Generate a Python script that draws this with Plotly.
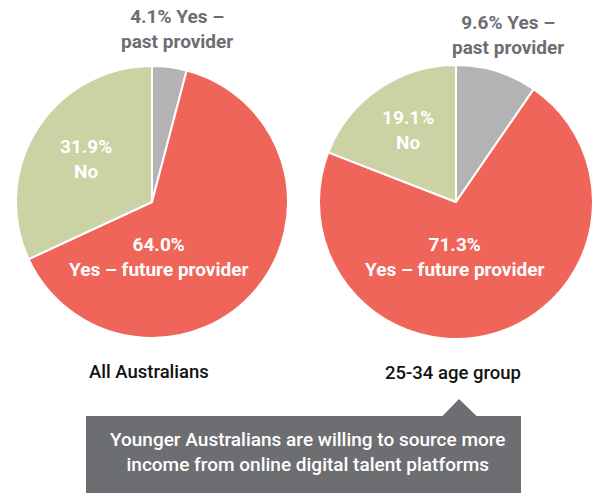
import plotly.graph_objects as go

W, H = 593, 496

categories = ["Yes – past provider", "Yes – future provider", "No"]
all_australians = [4.1, 64.0, 31.9]
age_25_34 = [9.6, 71.3, 19.1]
group_titles = ["All Australians", "25-34 age group"]
colors = ["#b3b3b3", "#f0655a", "#cbd2a3"]
callout_text = ("Younger Australians are willing to source more<br>"
                "income from online digital talent platforms")

FONT = "Roboto, 'Noto Sans', sans-serif"


def px(x):
    return x / W


def py(y):
    return 1 - y / H


fig = go.Figure()

pies = [
    dict(vals=all_australians, cx=152, cy=202, r=136),
    dict(vals=age_25_34, cx=456, cy=202, r=137),
]
for p in pies:
    fig.add_trace(go.Pie(
        labels=categories, values=p["vals"], sort=False, direction="clockwise",
        rotation=0, textinfo="none", hoverinfo="label+percent",
        marker=dict(colors=colors, line=dict(color="white", width=2)),
        domain=dict(x=[px(p["cx"] - p["r"]), px(p["cx"] + p["r"])],
                    y=[py(p["cy"] + p["r"]), py(p["cy"] - p["r"])]),
        showlegend=False,
    ))

ann = []


def add(text, x, y, color, size, weight="bold"):
    ann.append(dict(text=text, x=px(x), y=py(y),
                    xref="paper", yref="paper", showarrow=False,
                    xanchor="center", yanchor="middle", align="center",
                    font=dict(family=FONT, size=size, color=color, weight=weight)))


gray = "#6d6e71"
LS = 19
# left pie
add(f"{all_australians[0]:.1f}% Yes –<br>past provider", 177, 29.5, gray, LS)
add(f"{all_australians[2]:.1f}%<br>No", 86, 158.5, "white", LS)
add(f"{all_australians[1]:.1f}%<br>Yes – future provider", 158, 257, "white", LS)
# right pie
add(f"{age_25_34[0]:.1f}% Yes –<br>past provider", 508, 35.5, gray, LS)
add(f"{age_25_34[2]:.1f}%<br>No", 408, 129.5, "white", LS)
add(f"{age_25_34[1]:.1f}%<br>Yes – future provider", 454, 257, "white", LS)
# titles
add(group_titles[0], 149, 372, "#111111", 18.5, weight=500)
add(group_titles[1], 452.5, 373, "#111111", 18.5, weight=500)
# callout text
add(callout_text, 307.5, 452, "white", 19, weight=500)

shapes = [
    dict(type="rect", xref="paper", yref="paper",
         x0=px(86), x1=px(521), y0=py(493), y1=py(416),
         fillcolor=gray, line=dict(width=0), layer="below"),
    dict(type="path", xref="paper", yref="paper",
         path=f"M {px(442)} {py(416.5)} L {px(459)} {py(399)} L {px(477)} {py(416.5)} Z",
         fillcolor=gray, line=dict(width=0), layer="below"),
]

fig.update_layout(
    width=W, height=H, margin=dict(l=0, r=0, t=0, b=0),
    paper_bgcolor="white", plot_bgcolor="white",
    annotations=ann, shapes=shapes,
    font=dict(family=FONT),
)

fig.write_html("out.html", config={"displayModeBar": False},
               post_script="document.body.style.margin='0';")
